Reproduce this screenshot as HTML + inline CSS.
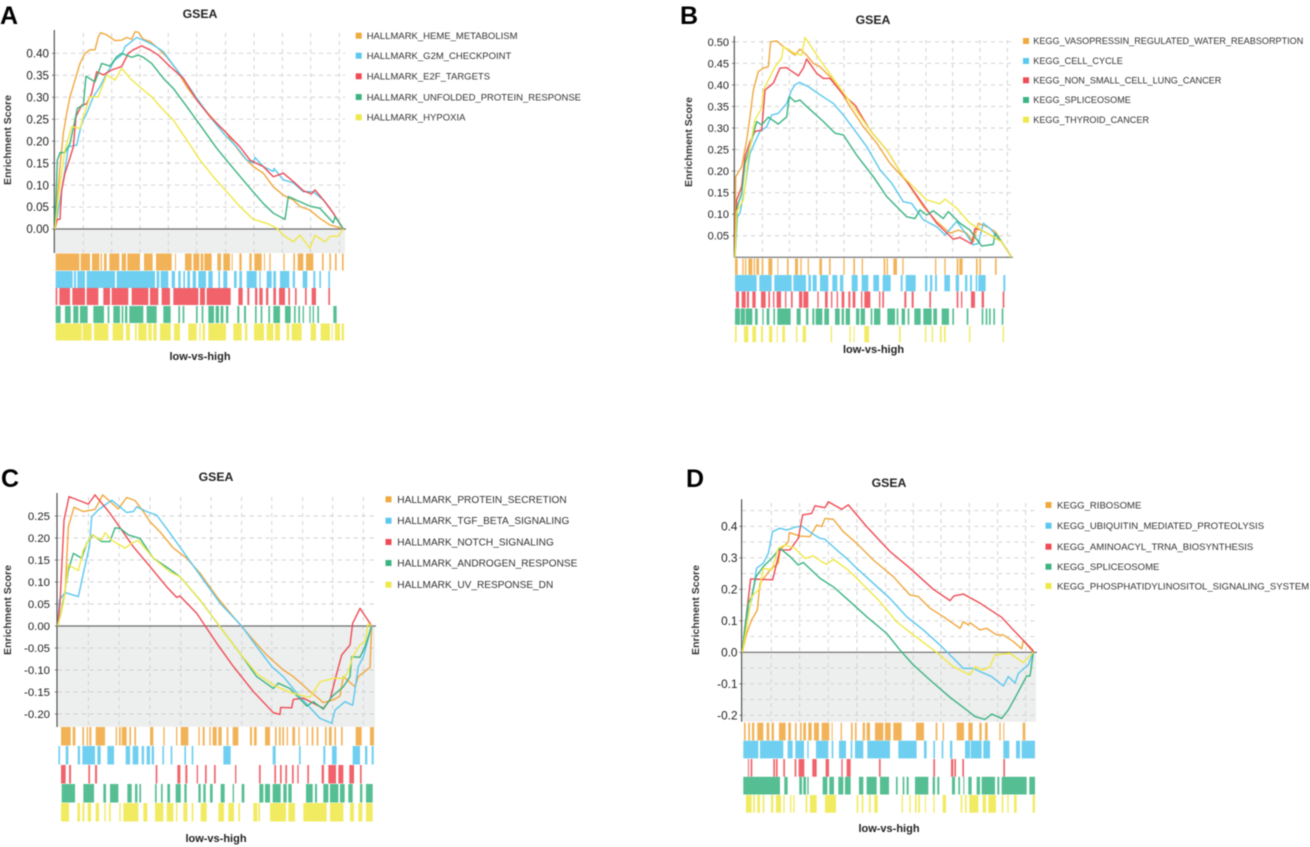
<!DOCTYPE html>
<html lang="en">
<head>
<meta charset="utf-8">
<title>GSEA enrichment panels</title>
<style>
html,body{margin:0;padding:0;background:#fff;}
svg{display:block;font-family:"Liberation Sans",sans-serif;filter:blur(0.45px);}
.letter{font-size:25px;font-weight:bold;fill:#000;}
.title{font-size:12.3px;font-weight:bold;fill:#222;text-anchor:middle;}
.xlab{font-size:11px;font-weight:bold;fill:#222;text-anchor:middle;}
.ylab{font-size:10.5px;font-weight:bold;fill:#333;text-anchor:middle;}
.leg{fill:#333;}
</style>
</head>
<body>
<svg id="figure" width="1310" height="847" viewBox="0 0 1310 847" xmlns="http://www.w3.org/2000/svg">
<rect x="0" y="0" width="1310" height="847" fill="#fff"/>
<g id="plots"></g>

<text class="letter" x="0" y="24">A</text>
<text class="letter" x="680" y="24">B</text>
<text class="letter" x="1" y="487">C</text>
<text class="letter" x="686" y="487">D</text>

<text class="title" x="200" y="18">GSEA</text>
<text class="title" x="873" y="24">GSEA</text>
<text class="title" x="216" y="481">GSEA</text>
<text class="title" x="889" y="487">GSEA</text>

<text class="xlab" x="200" y="360">low-vs-high</text>
<text class="xlab" x="873.5" y="353">low-vs-high</text>
<text class="xlab" x="216" y="842">low-vs-high</text>
<text class="xlab" x="889" y="832">low-vs-high</text>

<text class="ylab" transform="translate(11,140) rotate(-90)">Enrichment Score</text>
<text class="ylab" transform="translate(692,142) rotate(-90)">Enrichment Score</text>
<text class="ylab" transform="translate(11,610) rotate(-90)">Enrichment Score</text>
<text class="ylab" transform="translate(699,610) rotate(-90)">Enrichment Score</text>

<g font-size="9.5">
<g><rect x="355.7" y="32.7" width="6" height="6" fill="#F0A83F"/><text class="leg" x="366.7" y="39">HALLMARK_HEME_METABOLISM</text></g>
<g><rect x="355.7" y="52.7" width="6" height="6" fill="#5AC8EE"/><text class="leg" x="366.7" y="59">HALLMARK_G2M_CHECKPOINT</text></g>
<g><rect x="355.7" y="73.3" width="6" height="6" fill="#EF4B55"/><text class="leg" x="366.7" y="79.6">HALLMARK_E2F_TARGETS</text></g>
<g><rect x="355.7" y="94" width="6" height="6" fill="#3CB482"/><text class="leg" x="366.7" y="100.3">HALLMARK_UNFOLDED_PROTEIN_RESPONSE</text></g>
<g><rect x="355.7" y="114.3" width="6" height="6" fill="#EFE84A"/><text class="leg" x="366.7" y="120.6">HALLMARK_HYPOXIA</text></g>
</g>

<g font-size="9.1">
<g><rect x="1023" y="38" width="6" height="6" fill="#F0A83F"/><text class="leg" x="1033.3" y="44.2">KEGG_VASOPRESSIN_REGULATED_WATER_REABSORPTION</text></g>
<g><rect x="1023" y="58" width="6" height="6" fill="#5AC8EE"/><text class="leg" x="1033.3" y="64.2">KEGG_CELL_CYCLE</text></g>
<g><rect x="1023" y="77.3" width="6" height="6" fill="#EF4B55"/><text class="leg" x="1033.3" y="83.5">KEGG_NON_SMALL_CELL_LUNG_CANCER</text></g>
<g><rect x="1023" y="97" width="6" height="6" fill="#3CB482"/><text class="leg" x="1033.3" y="103.2">KEGG_SPLICEOSOME</text></g>
<g><rect x="1023" y="116.7" width="6" height="6" fill="#EFE84A"/><text class="leg" x="1033.3" y="122.9">KEGG_THYROID_CANCER</text></g>
</g>

<g font-size="10.1">
<g><rect x="385.5" y="496.3" width="6" height="6" fill="#F0A83F"/><text class="leg" x="397.3" y="502.8">HALLMARK_PROTEIN_SECRETION</text></g>
<g><rect x="385.5" y="517.7" width="6" height="6" fill="#5AC8EE"/><text class="leg" x="397.3" y="524.2">HALLMARK_TGF_BETA_SIGNALING</text></g>
<g><rect x="385.5" y="539" width="6" height="6" fill="#EF4B55"/><text class="leg" x="397.3" y="545.5">HALLMARK_NOTCH_SIGNALING</text></g>
<g><rect x="385.5" y="560" width="6" height="6" fill="#3CB482"/><text class="leg" x="397.3" y="566.5">HALLMARK_ANDROGEN_RESPONSE</text></g>
<g><rect x="385.5" y="581.7" width="6" height="6" fill="#EFE84A"/><text class="leg" x="397.3" y="588.2">HALLMARK_UV_RESPONSE_DN</text></g>
</g>

<g font-size="9.55">
<g><rect x="1045.5" y="502" width="6" height="6" fill="#F0A83F"/><text class="leg" x="1057" y="508.3">KEGG_RIBOSOME</text></g>
<g><rect x="1045.5" y="522.7" width="6" height="6" fill="#5AC8EE"/><text class="leg" x="1057" y="529">KEGG_UBIQUITIN_MEDIATED_PROTEOLYSIS</text></g>
<g><rect x="1045.5" y="543.7" width="6" height="6" fill="#EF4B55"/><text class="leg" x="1057" y="550">KEGG_AMINOACYL_TRNA_BIOSYNTHESIS</text></g>
<g><rect x="1045.5" y="563.7" width="6" height="6" fill="#3CB482"/><text class="leg" x="1057" y="570">KEGG_SPLICEOSOME</text></g>
<g><rect x="1045.5" y="583" width="6" height="6" fill="#EFE84A"/><text class="leg" x="1057" y="589.3">KEGG_PHOSPHATIDYLINOSITOL_SIGNALING_SYSTEM</text></g>
</g>
</svg>

<script>
/* ---------- Panel A data: [gene rank, enrichment score] ---------- */
const a_esTicks=[0,.05,.10,.15,.20,.25,.30,.35,.40];
const a_tickLabels=['0.00','0.05','0.10','0.15','0.20','0.25','0.30','0.35','0.40'];
const a_gridRanks=[85,170,255,340,425,512,597,682,767,853];
const a_heme=[[0,0],[7,.066],[15,.142],[25,.218],[35,.263],[45,.301],[60,.339],[75,.377],[90,.40],[105,.408],[120,.408],[130,.438],[137,.447],[155,.442],[180,.429],[200,.43],[215,.436],[230,.432],[240,.449],[250,.448],[265,.432],[285,.427],[310,.411],[335,.392],[365,.362],[395,.324],[425,.294],[455,.267],[485,.241],[515,.218],[535,.195],[565,.165],[595,.142],[625,.127],[655,.096],[685,.077],[715,.066],[735,.051],[765,.043],[795,.024],[825,.009],[845,.005],[865,0]];
const a_g2m=[[0,0],[15,.066],[30,.134],[40,.187],[65,.191],[80,.241],[95,.263],[115,.301],[135,.324],[155,.354],[180,.385],[200,.396],[210,.415],[230,.427],[245,.436],[265,.43],[295,.419],[325,.404],[355,.373],[385,.343],[425,.298],[465,.256],[505,.218],[545,.187],[575,.157],[595,.15],[600,.163],[625,.142],[655,.131],[657,.138],[685,.112],[715,.105],[745,.085],[775,.085],[805,.066],[835,.036],[865,0]];
const a_e2f=[[0,0],[7,.022],[15,.022],[20,.089],[30,.127],[40,.15],[55,.187],[63,.256],[80,.282],[95,.285],[110,.309],[125,.358],[145,.351],[170,.362],[200,.37],[220,.40],[235,.408],[260,.417],[285,.408],[310,.396],[345,.37],[385,.343],[425,.294],[465,.256],[515,.218],[555,.187],[585,.157],[625,.142],[655,.119],[685,.127],[715,.108],[745,.087],[770,.08],[780,.089],[810,.062],[835,.036],[865,0]];
const a_upr=[[0,0],[7,.157],[15,.174],[30,.174],[45,.195],[60,.248],[67,.275],[85,.282],[93,.348],[120,.335],[140,.377],[165,.371],[185,.392],[200,.40],[230,.391],[250,.396],[265,.391],[290,.377],[325,.343],[355,.32],[395,.279],[435,.237],[485,.184],[535,.138],[585,.093],[625,.058],[655,.036],[690,.022],[700,.074],[735,.062],[765,.052],[795,.047],[835,.014],[840,.028],[865,0]];
const a_hypoxia=[[0,0],[10,.074],[30,.18],[50,.233],[75,.229],[85,.256],[105,.301],[130,.301],[155,.351],[180,.339],[200,.366],[225,.343],[255,.323],[290,.301],[325,.271],[355,.248],[395,.203],[435,.157],[475,.119],[515,.085],[555,.051],[595,.022],[635,.013],[665,.002],[685,-.014],[715,-.029],[735,-.014],[765,-.044],[780,-.014],[810,-.029],[825,-.017],[850,-.016],[865,0]];
const a_hemeHits=[[2,73],[77,105],[111,133],[137,141],[147,155],[163,193],[200,213],[217,255],[267,293],[303,350],[360,363],[390,410],[415,433],[437,445],[448,470],[487,498],[505,525],[530,533],[553,560],[583,590],[598,620],[627,630],[643,647],[685,689],[715,720],[728,745],[753,775],[801,806],[823,828],[840,845],[861,866]];
const a_g2mHits=[[2,53],[57,63],[67,90],[95,180],[185,300],[305,313],[317,340],[350,360],[370,377],[385,390],[397,405],[413,423],[430,453],[460,473],[490,495],[505,517],[537,545],[553,561],[575,605],[613,617],[635,650],[655,663],[675,703],[713,720],[743,757],[775,781],[793,798],[820,825]];
const a_e2fHits=[[2,7],[13,45],[52,90],[95,130],[145,165],[170,220],[230,280],[285,310],[320,345],[355,430],[435,450],[455,527],[550,563],[577,583],[600,607],[613,623],[633,640],[655,663],[672,690],[700,705],[720,725],[750,755],[770,783],[820,825]];
const a_uprHits=[[2,17],[30,47],[55,70],[75,98],[115,147],[158,163],[175,195],[200,205],[210,217],[223,265],[275,305],[325,347],[370,375],[383,388],[423,428],[440,445],[460,477],[482,492],[497,505],[513,520],[547,553],[567,573],[600,605],[617,622],[640,645],[655,675],[690,707],[717,722],[730,735],[743,747],[763,767],[773,777],[787,792],[835,845]];
const a_hypoxiaHits=[[2,80],[83,110],[117,160],[173,205],[213,225],[240,245],[250,275],[280,290],[295,305],[315,347],[357,375],[400,425],[433,437],[443,450],[460,513],[535,560],[570,577],[597,627],[635,655],[660,675],[695,703],[710,740],[767,783],[797,825],[830,833],[840,855],[860,867]];

/* ---------- Panel B data ---------- */
const b_esTicks=[.05,.10,.15,.20,.25,.30,.35,.40,.45,.50];
const b_tickLabels=['0.05','0.10','0.15','0.20','0.25','0.30','0.35','0.40','0.45','0.50'];
const b_gridRanks=[82,163,245,327,409,491,573,653,735,817];
const b_vaso=[[0,0],[2,.187],[20,.21],[35,.272],[45,.326],[55,.388],[70,.431],[85,.439],[100,.442],[107,.50],[125,.502],[145,.489],[180,.469],[195,.483],[215,.469],[235,.45],[255,.442],[285,.419],[315,.388],[345,.35],[385,.303],[425,.265],[465,.218],[515,.176],[565,.118],[605,.083],[645,.056],[670,.063],[695,.056],[715,.036],[730,.079],[755,.071],[780,.06],[800,.036],[830,0]];
const b_cycle=[[0,0],[7,.094],[15,.102],[30,.164],[45,.241],[60,.268],[75,.292],[95,.303],[110,.33],[130,.334],[155,.357],[170,.388],[180,.40],[193,.406],[220,.396],[255,.377],[295,.357],[325,.33],[355,.299],[395,.257],[435,.203],[470,.172],[505,.129],[530,.125],[565,.087],[605,.071],[630,.052],[665,.083],[685,.063],[715,.029],[730,.032],[745,.079],[765,.067],[800,.036],[830,0]];
const b_nsclc=[[0,0],[5,.133],[20,.164],[30,.234],[45,.268],[60,.292],[80,.295],[90,.388],[115,.404],[135,.439],[155,.44],[190,.421],[205,.439],[215,.46],[245,.427],[265,.415],[285,.415],[325,.377],[360,.353],[405,.295],[455,.249],[505,.187],[555,.133],[605,.079],[655,.042],[675,.046],[710,.031],[720,.067],[740,.063],[800,.036],[830,0]];
const b_splice=[[0,0],[7,.118],[20,.148],[30,.218],[45,.257],[65,.315],[80,.307],[100,.325],[130,.309],[155,.326],[163,.373],[180,.361],[195,.365],[215,.35],[265,.315],[300,.288],[325,.284],[365,.237],[415,.187],[455,.141],[515,.094],[540,.09],[555,.11],[575,.098],[595,.108],[625,.09],[640,.106],[675,.079],[705,.063],[740,.026],[775,.03],[780,.056],[800,.036],[830,0]];
const b_thyroid=[[0,0],[5,.106],[25,.133],[40,.234],[60,.319],[80,.346],[85,.388],[120,.442],[140,.462],[145,.489],[180,.473],[200,.469],[210,.51],[255,.458],[305,.404],[355,.35],[405,.295],[455,.249],[505,.187],[575,.133],[615,.124],[630,.135],[665,.114],[705,.079],[740,.063],[800,.036],[830,0]];
const b_vasoHits=[[0,8],[22,26],[30,34],[40,52],[56,60],[64,72],[80,85],[100,112],[127,130],[156,161],[180,189],[196,200],[218,222],[253,261],[282,287],[325,329],[355,360],[380,384],[446,451],[455,459],[475,486],[502,506],[600,604],[628,632],[665,670],[673,683],[723,728],[733,738],[780,785]];
const b_cycleHits=[[0,65],[73,110],[118,170],[175,213],[220,228],[233,245],[255,280],[292,307],[315,325],[350,368],[380,400],[415,432],[443,467],[497,503],[512,542],[570,577],[585,592],[600,606],[628,645],[662,672],[690,697],[705,711],[722,727],[730,752],[805,811]];
const b_nsclcHits=[[3,12],[20,32],[36,42],[52,62],[78,92],[100,105],[114,118],[125,138],[150,154],[168,173],[192,202],[205,220],[247,251],[270,278],[288,292],[305,309],[320,328],[340,346],[353,361],[378,382],[388,406],[432,436],[442,447],[508,514],[530,536],[583,588],[665,670],[678,682],[708,720],[740,747],[803,808]];
const b_spliceHits=[[0,15],[17,30],[32,52],[60,68],[82,86],[95,103],[115,120],[127,167],[185,197],[213,220],[232,238],[242,262],[268,282],[300,314],[320,327],[332,345],[363,373],[377,390],[407,412],[417,436],[457,480],[485,490],[500,510],[518,523],[538,557],[565,590],[595,606],[620,642],[652,657],[695,700],[740,745],[752,757],[762,767],[775,780],[800,805]];
const b_thyroidHits=[[0,5],[27,40],[52,63],[78,84],[102,112],[125,128],[142,150],[183,187],[203,213],[287,291],[343,347],[356,359],[388,402],[492,497],[570,574],[590,594],[615,620],[627,632],[702,706],[803,807]];

/* ---------- Panel C data ---------- */
const c_esTicks=[-.20,-.15,-.10,-.05,0,.05,.10,.15,.20,.25];
const c_tickLabels=['-0.20','-0.15','-0.10','-0.05','0.00','0.05','0.10','0.15','0.20','0.25'];
const c_gridRanks=[92,184,277,369,460,552,642,735,825,917];
const c_secretion=[[0,0],[22,.074],[32,.226],[49,.27],[77,.26],[112,.265],[135,.298],[157,.283],[182,.266],[207,.292],[232,.285],[257,.26],[277,.237],[307,.214],[347,.177],[387,.154],[427,.12],[477,.067],[527,.021],[587,-.032],[627,-.066],[677,-.1],[707,-.115],[747,-.142],[797,-.174],[827,-.168],[847,-.159],[857,-.115],[892,-.138],[902,-.115],[937,-.094],[942,0]];
const c_tgf=[[0,0],[5,.059],[22,.076],[62,.067],[77,.12],[95,.18],[102,.248],[122,.264],[142,.275],[162,.286],[207,.258],[227,.26],[237,.271],[267,.26],[297,.252],[337,.211],[387,.158],[437,.105],[487,.052],[552,0],[597,-.047],[642,-.092],[677,-.115],[727,-.161],[787,-.21],[822,-.221],[832,-.191],[862,-.172],[885,-.18],[902,-.092],[917,-.07],[942,0]];
const c_notch=[[0,0],[7,.052],[19,.241],[34,.294],[92,.277],[112,.298],[157,.256],[227,.18],[277,.135],[327,.089],[357,.065],[367,.068],[417,.029],[477,-.039],[527,-.092],[587,-.149],[647,-.197],[667,-.201],[669,-.185],[702,-.186],[707,-.167],[737,-.164],[797,-.187],[817,-.168],[837,-.108],[852,-.066],[877,-.043],[885,.006],[907,.04],[937,.006],[942,0]];
const c_androgen=[[0,0],[12,.036],[32,.127],[47,.165],[72,.154],[87,.188],[105,.207],[132,.192],[157,.192],[172,.223],[187,.222],[212,.207],[247,.199],[287,.154],[332,.131],[367,.112],[427,.059],[487,-.002],[547,-.062],[597,-.115],[647,-.142],[662,-.13],[697,-.142],[747,-.182],[767,-.172],[797,-.189],[822,-.161],[857,-.138],[877,-.115],[882,-.07],[907,-.071],[922,-.047],[942,0]];
const c_uvDn=[[0,0],[17,.052],[32,.139],[62,.126],[77,.173],[102,.207],[132,.195],[142,.212],[162,.195],[202,.177],[222,.188],[242,.195],[287,.154],[337,.123],[367,.112],[427,.059],[487,-.002],[547,-.062],[597,-.108],[647,-.134],[697,-.151],[737,-.159],[757,-.162],[787,-.127],[827,-.119],[857,-.119],[872,-.104],[885,-.07],[907,-.043],[922,-.036],[932,.006],[942,0]];
const c_secretionHits=[[10,39],[45,53],[74,79],[87,91],[95,101],[114,142],[174,178],[184,189],[192,207],[215,220],[230,235],[277,287],[317,321],[355,359],[369,392],[422,426],[435,441],[455,459],[465,477],[482,492],[507,512],[525,542],[577,583],[589,597],[622,637],[652,657],[664,669],[674,679],[687,691],[704,712],[722,726],[747,751],[762,767],[777,782],[802,807],[814,822],[830,835],[850,855],[894,912],[937,949]];
const c_tgfHits=[[2,7],[24,32],[60,67],[74,112],[119,129],[149,169],[204,217],[225,242],[252,259],[267,277],[282,289],[314,319],[339,344],[380,385],[402,407],[497,519],[645,654],[724,729],[797,803],[823,837],[885,907],[922,929],[942,948]];
const c_notchHits=[[10,24],[34,40],[92,97],[112,118],[294,299],[359,368],[383,389],[417,421],[442,447],[469,474],[532,536],[604,609],[650,655],[667,672],[683,688],[703,708],[719,723],[749,754],[792,799],[812,835],[842,857],[875,889],[907,912]];
const c_androgenHits=[[12,52],[77,109],[137,145],[157,182],[209,222],[232,239],[245,250],[292,297],[310,315],[329,337],[354,369],[380,387],[422,429],[437,444],[457,465],[489,501],[525,529],[552,560],[605,617],[622,637],[645,669],[677,687],[692,702],[745,765],[772,778],[797,812],[817,842],[847,861],[872,885],[907,914],[925,945]];
const c_uvDnHits=[[10,34],[59,67],[74,80],[90,100],[114,124],[140,144],[154,159],[185,189],[197,242],[257,269],[292,317],[327,347],[355,359],[377,389],[402,407],[429,447],[482,499],[512,529],[542,547],[587,599],[602,607],[637,685],[692,712],[737,807],[817,857],[877,889],[902,914],[925,945]];

/* ---------- Panel D data ---------- */
const d_esTicks=[-.2,-.1,0,.1,.2,.3,.4];
const d_tickLabels=['-0.2','-0.1','0.0','0.1','0.2','0.3','0.4'];
const d_minorTicks=[-.15,-.05,.05,.15,.25,.35,.45];
const d_gridRanks=[87,172,258,344,430,513,596,681,766,850];
const d_ribosome=[[0,0],[13,.06],[28,.103],[45,.134],[53,.219],[68,.24],[83,.261],[108,.283],[113,.325],[138,.351],[141,.38],[173,.369],[203,.367],[223,.404],[238,.399],[248,.425],[273,.422],[303,.383],[343,.346],[393,.293],[453,.24],[503,.182],[528,.177],[563,.14],[603,.113],[653,.076],[663,.097],[678,.087],[683,.094],[713,.071],[733,.076],[763,.055],[783,.055],[813,.034],[838,.011],[843,.037],[873,0]];
const d_ubiquitin=[[0,0],[8,.081],[18,.134],[28,.166],[43,.267],[63,.283],[78,.314],[91,.383],[113,.394],[133,.388],[158,.397],[178,.401],[208,.378],[233,.362],[248,.359],[283,.325],[313,.298],[343,.267],[393,.219],[443,.171],[493,.113],[543,.071],[593,.023],[623,-.008],[663,-.051],[693,-.051],[713,-.061],[748,-.077],[783,-.107],[798,-.077],[818,-.098],[828,-.067],[858,-.04],[873,0]];
const d_aminoacyl=[[0,0],[13,.124],[25,.233],[91,.23],[113,.325],[143,.325],[168,.362],[181,.436],[208,.441],[218,.465],[248,.459],[258,.478],[298,.454],[318,.468],[373,.399],[443,.32],[503,.267],[573,.2],[623,.164],[635,.179],[663,.185],[713,.156],[778,.111],[813,.071],[871,.007],[873,0]];
const d_splice=[[0,0],[8,.081],[18,.156],[28,.177],[41,.24],[63,.272],[88,.298],[113,.33],[143,.304],[168,.277],[183,.285],[233,.235],[273,.208],[323,.161],[373,.113],[433,.06],[473,.007],[513,-.04],[563,-.088],[623,-.143],[673,-.183],[698,-.204],[728,-.213],[748,-.196],[778,-.21],[798,-.183],[823,-.135],[853,-.075],[863,-.075],[873,0]];
const d_phospho=[[0,0],[13,.081],[28,.177],[53,.203],[63,.267],[88,.261],[108,.33],[128,.341],[158,.33],[188,.298],[213,.306],[238,.288],[253,.279],[273,.295],[318,.261],[363,.214],[413,.161],[463,.097],[513,.055],[583,0],[633,-.046],[683,-.072],[698,-.046],[723,-.056],[743,-.046],[758,-.008],[803,-.003],[843,-.033],[873,0]];
const d_ribosomeHits=[[5,10],[18,23],[29,36],[45,63],[73,81],[88,95],[110,130],[138,146],[158,163],[173,178],[183,191],[198,208],[215,230],[238,261],[268,271],[295,299],[326,331],[338,343],[361,368],[373,383],[398,423],[428,445],[453,478],[521,545],[580,585],[601,605],[643,665],[678,691],[711,718],[728,736],[771,775],[783,786],[841,849]];
const d_ubiquitinHits=[[3,48],[53,123],[136,151],[159,185],[195,199],[221,258],[268,273],[290,311],[325,330],[338,363],[375,443],[468,523],[545,553],[573,578],[598,603],[623,630],[668,683],[685,718],[723,743],[783,801],[821,833],[838,878]];
const d_aminoacylHits=[[17,20],[25,30],[93,98],[101,106],[123,128],[157,162],[169,186],[210,223],[250,260],[297,301],[313,325],[410,415],[573,578],[626,633],[636,641],[660,665],[783,788]];
const d_spliceHits=[[3,113],[126,136],[171,179],[183,191],[195,199],[241,255],[261,275],[288,303],[308,325],[350,363],[373,403],[413,440],[461,466],[481,486],[493,499],[518,558],[571,578],[585,591],[629,638],[648,653],[663,666],[678,688],[703,713],[718,758],[765,771],[778,853],[861,878]];
const d_phosphoHits=[[11,28],[33,38],[45,53],[61,66],[86,93],[101,116],[123,127],[143,147],[153,157],[190,195],[203,223],[248,281],[343,348],[358,363],[380,385],[396,406],[478,482],[501,505],[518,523],[528,533],[548,551],[573,577],[601,611],[655,660],[668,673],[681,708],[721,731],[738,761],[778,783],[795,799],[815,823],[871,878]];

/* ---------- Layout and rendering ---------- */
const seriesColors=['#F0A83F','#5AC8EE','#EF4B55','#3CB482','#EFE84A'];
const panels=[
 {id:'a',x0:55,x1:345,rankMax:870,y0:229,esScale:439.2,axisTop:30,axisBottom:253,floor:253,shade:true,labelX:49,fs:11.6,
  ticks:a_esTicks,labels:a_tickLabels,minor:[],grid:a_gridRanks,gridTop:33,
  curves:[a_heme,a_g2m,a_e2f,a_upr,a_hypoxia],
  hits:[a_hemeHits,a_g2mHits,a_e2fHits,a_uprHits,a_hypoxiaHits],
  rows:[253.5,271,288,306,323.5],rowH:17},
 {id:'b',x0:735,x1:1012,rankMax:831,y0:257.3,esScale:431,axisTop:36,axisBottom:257.3,floor:257.3,shade:false,labelX:729,fs:11,
  ticks:b_esTicks,labels:b_tickLabels,minor:[],grid:b_gridRanks,gridTop:40,
  curves:[b_vaso,b_cycle,b_nsclc,b_splice,b_thyroid],
  hits:[b_vasoHits,b_cycleHits,b_nsclcHits,b_spliceHits,b_thyroidHits],
  rows:[258.5,275,291.5,308.5,326],rowH:16.3},
 {id:'c',x0:57.7,x1:375,rankMax:952,y0:626,esScale:440,axisTop:493,axisBottom:727,floor:726.7,shade:true,labelX:50,fs:11.4,
  ticks:c_esTicks,labels:c_tickLabels,minor:[],grid:c_gridRanks,gridTop:497,
  curves:[c_secretion,c_tgf,c_notch,c_androgen,c_uvDn],
  hits:[c_secretionHits,c_tgfHits,c_notchHits,c_androgenHits,c_uvDnHits],
  rows:[727,746,765,784,803],rowH:18.5},
 {id:'d',x0:742.3,x1:1036,rankMax:881,y0:652.3,esScale:315,axisTop:499.3,axisBottom:721.7,floor:721.7,shade:true,labelX:737.5,fs:11.8,
  ticks:d_esTicks,labels:d_tickLabels,minor:d_minorTicks,grid:d_gridRanks,gridTop:503,
  curves:[d_ribosome,d_ubiquitin,d_aminoacyl,d_splice,d_phospho],
  hits:[d_ribosomeHits,d_ubiquitinHits,d_aminoacylHits,d_spliceHits,d_phosphoHits],
  rows:[722.7,740.7,759,776.8,795],rowH:17.7}
];
const NS='http://www.w3.org/2000/svg';
const plotLayer=document.getElementById('plots');
function make(parent,tag,attrs){
  const node=document.createElementNS(NS,tag);
  for(const key in attrs){node.setAttribute(key,attrs[key]);}
  parent.appendChild(node);
  return node;
}
function drawPanel(p){
  const xScale=function(rank){return p.x0+(rank/p.rankMax)*(p.x1-p.x0);};
  const yScale=function(es){return p.y0-es*p.esScale;};

  const group=make(plotLayer,'g',{});
  
  

  if(p.shade){
    const shade=make(group,'rect',{x:p.x0,y:p.y0,width:p.x1-p.x0,height:p.floor-p.y0,fill:'#EDEEEE'});
    
    
  }
  p.grid.forEach(function(rank){
    const line=make(group,'line',{x1:xScale(rank),x2:xScale(rank),y1:p.gridTop,y2:p.floor,stroke:'#cfcfcf','stroke-width':0.9,'stroke-dasharray':'4 4'});
    
    
  });
  p.ticks.concat(p.minor).forEach(function(es){
    const line=make(group,'line',{x1:p.x0,x2:p.x1,y1:yScale(es),y2:yScale(es),stroke:'#cfcfcf','stroke-width':0.9,'stroke-dasharray':'4 4'});
    
    
  });
  p.ticks.forEach(function(es,i){
    const label=make(group,'text',{x:p.labelX,y:yScale(es)+p.fs*0.36,'text-anchor':'end','font-size':p.fs,fill:'#222'});
    label.textContent=p.labels[i];
    
    
    const tick=make(group,'line',{x1:p.x0-3,x2:p.x0,y1:yScale(es),y2:yScale(es),stroke:'#666','stroke-width':0.8});
    
    
  });
  const zero=make(group,'line',{x1:p.x0-1,x2:p.x1+1,y1:yScale(0),y2:yScale(0),stroke:'#6b6b6b','stroke-width':1.2});
  
  
  const axis=make(group,'line',{x1:p.x0-0.7,x2:p.x0-0.7,y1:p.axisTop,y2:p.axisBottom,stroke:'#444','stroke-width':1.1});
  
  

  p.curves.forEach(function(curve,i){
    const path=make(group,'polyline',{
      points:curve.map(function(pt){return xScale(pt[0]).toFixed(2)+','+yScale(pt[1]).toFixed(2);}).join(' '),
      fill:'none',stroke:seriesColors[i],'stroke-width':1.4,'stroke-linejoin':'round'
    });
    
    
  });
  p.hits.forEach(function(runs,i){
    const row=make(group,'g',{fill:seriesColors[i],'fill-opacity':0.87});
    
    
    runs.forEach(function(run){
      const mark=make(row,'rect',{x:xScale(run[0]),y:p.rows[i],width:Math.max(xScale(run[1])-xScale(run[0]),1),height:p.rowH});
      
      
    });
  });
}
panels.forEach(drawPanel);
</script>
</body>
</html>
